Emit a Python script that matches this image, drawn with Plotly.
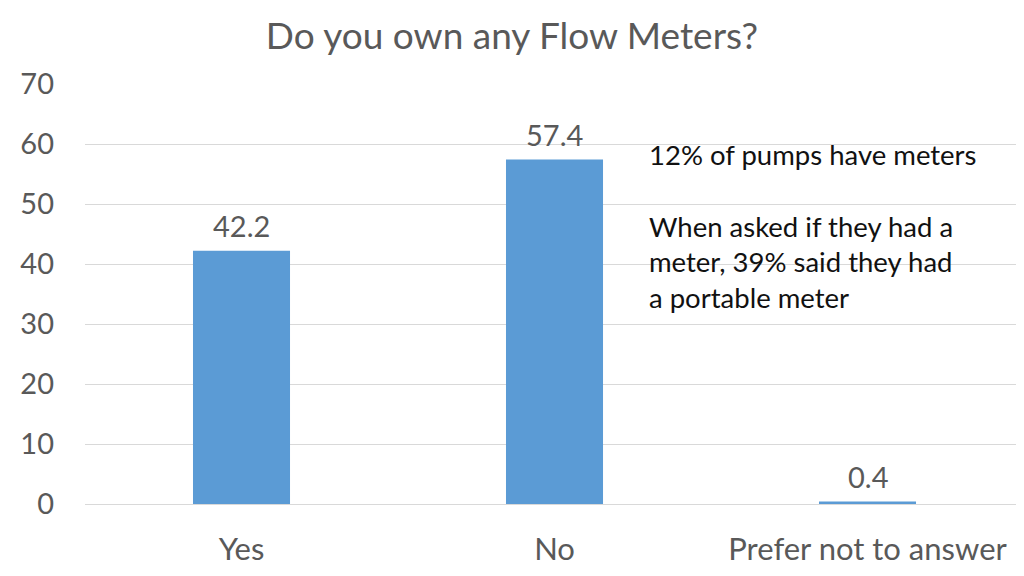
import plotly.graph_objects as go

categories = ["Yes", "No", "Prefer not to answer"]
values = [42.2, 57.4, 0.4]
y_ticks = [0, 10, 20, 30, 40, 50, 60, 70]
title_text = "Do you own any Flow Meters?"
note_lines = ["12% of pumps have meters", "", "When asked if they had a",
              "meter, 39% said they had", "a portable meter"]

FONT = "Lato"
GREY = "#595959"

fig = go.Figure()
fig.add_trace(go.Bar(
    x=categories, y=values, marker=dict(color="#5B9BD5", line=dict(width=0)),
    width=0.31, hoverinfo="skip",
))

for c, v in zip(categories, values):
    fig.add_annotation(x=c, y=v, text=f"{v}", showarrow=False, yanchor="bottom",
                       yshift=6, font=dict(family=FONT, size=29, color=GREY))

# white box behind note
fig.add_shape(type="rect", xref="paper", yref="y", x0=0.591, x1=1.0, y0=29.2, y1=63,
              fillcolor="white", line=dict(width=0), layer="between")

fig.add_annotation(xref="paper", yref="paper", x=0.5985, y=0.876,
                   xanchor="left", yanchor="top", align="left", showarrow=False,
                   text="<br>".join(note_lines),
                   font=dict(family=FONT, size=27.5, color="#111111"))

fig.update_layout(
    width=1024, height=576,
    margin=dict(l=77, r=8, t=76, b=80),
    paper_bgcolor="white", plot_bgcolor="white",
    title=dict(text=title_text, x=(512 - 8) / 1024, xanchor="center", y=1 - 28 / 576,
               yanchor="middle", font=dict(family=FONT, size=37, color=GREY)),
    showlegend=False,
    xaxis=dict(showgrid=False, showline=False, ticks="", ticklabelstandoff=24,
               tickfont=dict(family=FONT, size=31, color=GREY)),
    yaxis=dict(range=[0, 70], tickvals=y_ticks, showgrid=True, gridcolor="#D9D9D9",
               gridwidth=1, zeroline=True, zerolinecolor="#D9D9D9", zerolinewidth=1,
               showline=False, ticks="", ticklabelstandoff=30,
               tickfont=dict(family=FONT, size=29, color=GREY)),
)

fig.write_html("out.html")
